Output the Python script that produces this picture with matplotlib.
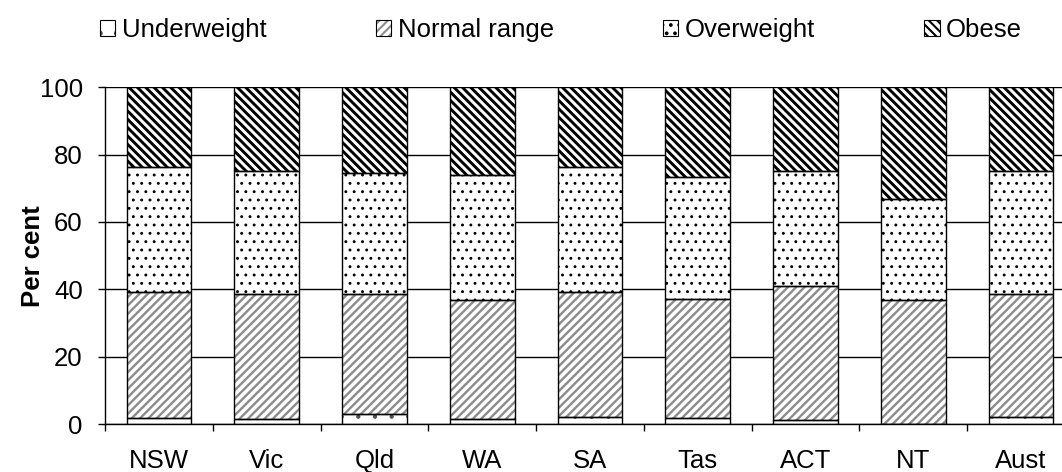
import numpy as np
import matplotlib
matplotlib.use('Agg')
import matplotlib.pyplot as plt

plt.rcParams['font.family'] = ['Liberation Sans', 'DejaVu Sans']
plt.rcParams['font.size'] = 18.5
plt.rcParams['hatch.linewidth'] = 1.5

# data (per cent)
states = ['NSW', 'Vic', 'Qld', 'WA', 'SA', 'Tas', 'ACT', 'NT', 'Aust']
underweight = [1.9, 1.4, 3.1, 1.4, 2.2, 1.9, 1.2, 0.0, 2.0]
normal_top = [39.1, 38.7, 38.5, 36.8, 39.1, 37.2, 40.9, 36.7, 38.6]
overweight_top = [76.2, 75.2, 74.6, 74.0, 76.2, 73.3, 75.0, 66.9, 75.2]

underweight = np.array(underweight)
normal = np.array(normal_top) - underweight
overweight = np.array(overweight_top) - np.array(normal_top)
obese = 100 - np.array(overweight_top)

# name, values, hatch, hatch colour, hatch line width
series = [
    ('Underweight', underweight, '.', '#505050', 0.6),
    ('Normal range', normal, '////', '#8c8c8c', 1.7),
    ('Overweight', overweight, '..', 'black', 0.9),
    ('Obese', obese, '\\\\\\\\', 'black', 2.1),
]


def set_hlw(p, lw):
    if hasattr(p, 'set_hatch_linewidth'):
        p.set_hatch_linewidth(lw)


fig = plt.figure(figsize=(10.62, 4.72), dpi=100)
ax = fig.add_axes([105 / 1062, 1 - 424 / 472, 970 / 1062, (424 - 87.3) / 472])

x = np.arange(len(states))
width = 0.6
bottom = np.zeros(len(states))
handles = []
for name, vals, hatch, col, hlw in series:
    # hatch drawn in its own colour, outline on top in black
    bars = ax.bar(x, vals, width, bottom=bottom, color='white', edgecolor=col,
                  hatch=hatch, linewidth=0, zorder=2)
    for b in bars:
        set_hlw(b, hlw)
    ax.bar(x, vals, width, bottom=bottom, fill=False, edgecolor='black',
           linewidth=1.0, zorder=3)
    h1 = plt.Rectangle((0, 0), 1, 1, facecolor='white', edgecolor=col,
                       hatch=hatch, linewidth=0)
    set_hlw(h1, hlw)
    h2 = plt.Rectangle((0, 0), 1, 1, fill=False, edgecolor='black', linewidth=0.8)
    handles.append((h1, h2))
    bottom += vals

ax.set_xlim(-0.5, len(states) - 0.5)
ax.set_ylim(0, 100)
ax.set_yticks(np.arange(0, 101, 20))
ax.yaxis.grid(True, color='black', linewidth=1.0, zorder=0)
ax.set_axisbelow(True)

ax.set_xticks(x)
ax.set_xticklabels(states)
ax.set_xticks(np.arange(-0.5, len(states), 1), minor=True)
ax.tick_params(axis='x', which='major', length=0, pad=18)
ax.tick_params(axis='x', which='minor', length=5, width=1, direction='out')
ax.tick_params(axis='y', length=5, width=1, direction='out', pad=11)

for s in ['top', 'right']:
    ax.spines[s].set_visible(False)
ax.spines['left'].set_linewidth(1)
ax.spines['bottom'].set_linewidth(1)

ax.set_ylabel('Per cent', fontweight='bold', labelpad=-4)

fig.legend(handles, [s[0] for s in series], loc='center left',
           bbox_to_anchor=(100 / 1062, 1 - 30 / 472), ncol=4, frameon=False,
           handlelength=0.6, handleheight=0.6, handletextpad=0.25,
           columnspacing=4.25, borderaxespad=0, borderpad=0)

fig.savefig('out.png', dpi=100)
